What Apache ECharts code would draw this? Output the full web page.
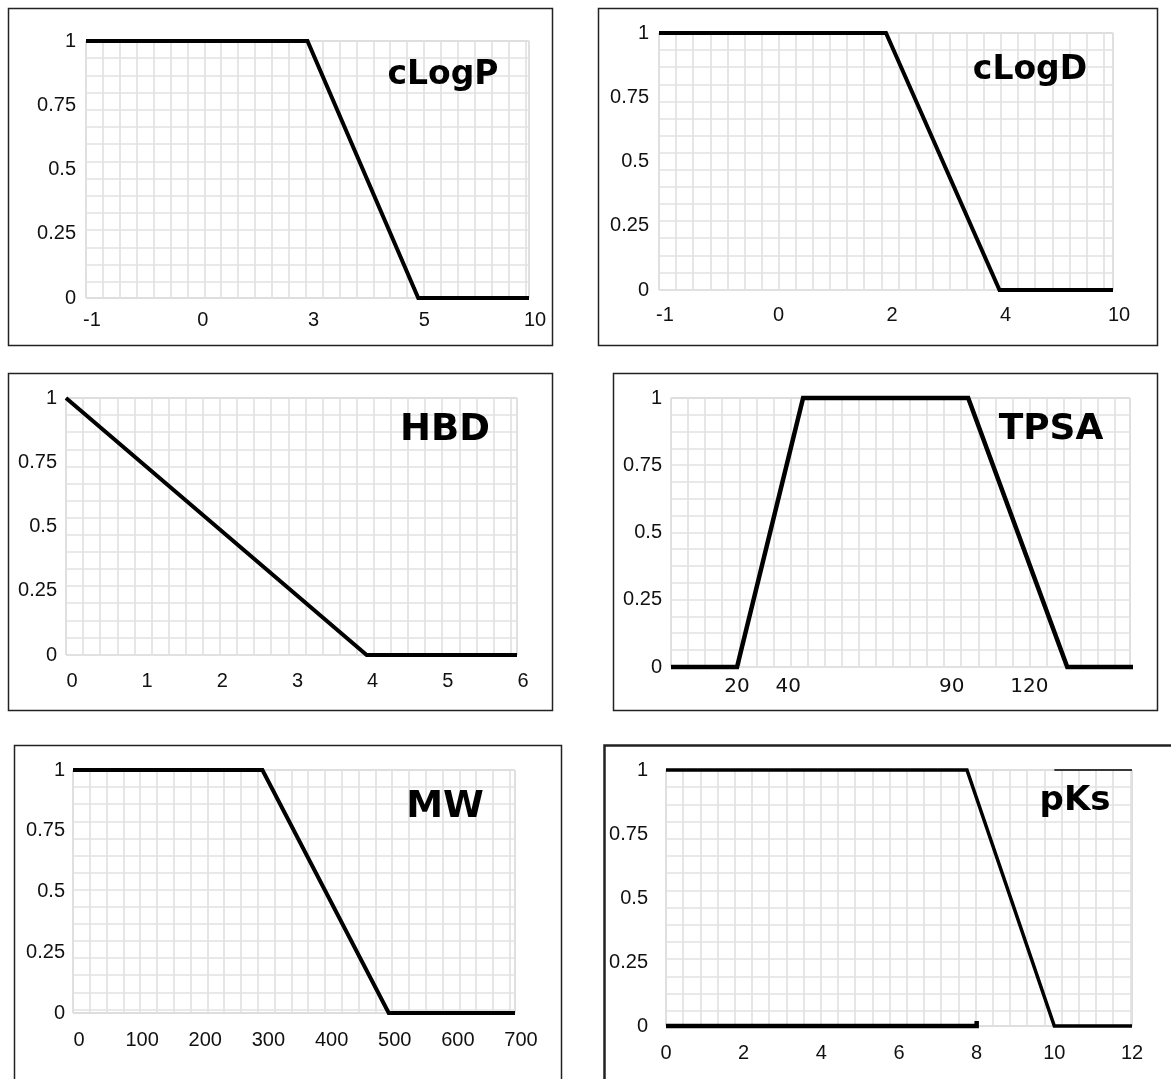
<!DOCTYPE html>
<html><head><meta charset="utf-8">
<script src="https://cdn.jsdelivr.net/npm/echarts@6/dist/echarts.min.js"></script>
<style>html,body{margin:0;padding:0;background:#fff}#c{width:1171px;height:1079px}</style>
</head><body><div id="c"></div>
<script>
// ---------- data ----------
const titles = ['cLogP', 'cLogD', 'HBD', 'TPSA', 'MW', 'pKs'];
const yTickMin = 0, yTickMax = 1, yTickStep = 0.25;

const clogpCats = ['-1', '0', '3', '5', '10'];
const clogpVals = [1, 1, 1, 0, 0];

const clogdCats = ['-1', '0', '2', '4', '10'];
const clogdVals = [1, 1, 1, 0, 0];

const hbdX = [0, 4, 6];
const hbdY = [1, 0, 0];

const tpsaX = [0, 20, 40, 90, 120, 148];
const tpsaY = [0, 0, 1, 1, 0, 0];
const tpsaTickPos = [20, 35.5, 85, 108.5];
const tpsaTickText = ['20', '40', '90', '120'];

const mwX = [0, 300, 500, 700];
const mwY = [1, 1, 0, 0];

const pksX = [0, 7.75, 10, 12];
const pksY = [1, 1, 0, 0];
const pksLowX = [0, 8, 8];
const pksLowY = [0, 0, 0.02];
const pksCapX = [10, 12];
const pksCapY = [1, 1];

// ---------- layout ----------
const panels = [
  {grid: {left: 86, top: 41, width: 443, height: 257}, box: [8.5, 8.5, 544, 337], cell: [16.9, 17.2],
   title: {x: 443, y: 75, size: 33}, yMargin: 10, xMargin: 12, xFont: 20, xPad: 12},
  {grid: {left: 659, top: 33, width: 454, height: 257}, box: [598.5, 8.5, 559, 337], cell: [17.1, 17.1],
   title: {x: 1030, y: 70, size: 33}, yMargin: 10, xMargin: 15, xFont: 20, xPad: 12},
  {grid: {left: 66, top: 398, width: 451, height: 257}, box: [8.5, 373.5, 544, 337], cell: [17.1, 17.1],
   title: {x: 445, y: 430, size: 37}, yMargin: 9, xMargin: 16, xFont: 20, xPad: 12},
  {grid: {left: 671, top: 398, width: 459, height: 269}, box: [613.5, 373.5, 544, 337], cell: [17.07, 16.8],
   title: {x: 1051, y: 430, size: 36}, yMargin: 9, xMargin: 10, xFont: 20, xPad: 0},
  {grid: {left: 73, top: 770, width: 442, height: 243}, box: [14.5, 745.5, 547, 400], cell: [16.8, 17.1],
   title: {x: 445, y: 807, size: 37}, yMargin: 8, xMargin: 17, xFont: 20, xPad: 12},
  {grid: {left: 666, top: 770, width: 466, height: 256}, box: [604.5, 745.5, 620, 400], cell: [17.2, 17.2],
   title: {x: 1075, y: 801, size: 34}, yMargin: 18, xMargin: 17, xFont: 20, xPad: 0}
];

const labelFont = "'Liberation Sans', Arial, sans-serif";
const titleFont = "'DejaVu Sans', Verdana, sans-serif";

const grids = [], xAxes = [], yAxes = [], series = [], graphics = [];

function pairs(xs, ys) { return xs.map((x, i) => [x, ys[i]]); }

const mainX = [
  {type: 'category', data: clogpCats, boundaryGap: false},
  {type: 'category', data: clogdCats, boundaryGap: false},
  {type: 'value', min: 0, max: 6, interval: 1},
  {type: 'value', min: 0, max: 139},
  {type: 'value', min: 0, max: 700, interval: 100},
  {type: 'value', min: 0, max: 12, interval: 2}
];

const lineData = [
  [{d: clogpVals, w: 4}],
  [{d: clogdVals, w: 4}],
  [{d: pairs(hbdX, hbdY), w: 4}],
  [{d: pairs(tpsaX, tpsaY), w: 4.5}],
  [{d: pairs(mwX, mwY), w: 4}],
  [{d: pairs(pksX, pksY), w: 3.5}, {d: pairs(pksLowX, pksLowY), w: 4.5}, {d: pairs(pksCapX, pksCapY), w: 1.5}]
];

panels.forEach((p, i) => {
  grids.push(Object.assign({show: true, borderColor: '#a6a6a6', borderWidth: 1, backgroundColor: '#fff'}, p.grid));
  const mx = Object.assign({
    gridIndex: i, position: 'bottom',
    axisLine: {show: false}, axisTick: {show: false}, splitLine: {show: false},
    axisLabel: {
      show: true, interval: 0, margin: p.xMargin, color: '#111',
      fontFamily: i === 3 ? titleFont : labelFont, fontSize: p.xFont,
      padding: [0, 0, 0, p.xPad]
    }
  }, mainX[i]);
  if (i === 3) {
    mx.axisLabel.customValues = tpsaTickPos;
    mx.axisLabel.formatter = v => tpsaTickText[tpsaTickPos.indexOf(v)];
  }
  xAxes.push(mx);
  // hidden grid-pattern axis (x)
  xAxes.push({
    gridIndex: i, type: 'value', min: 0, max: p.grid.width / p.cell[0], interval: 1, position: 'top',
    axisLine: {show: false}, axisTick: {show: false}, axisLabel: {show: false},
    splitLine: {show: true, lineStyle: {color: '#e2e2e2', width: 1.7}}
  });
  yAxes.push({
    gridIndex: i, type: 'value', min: yTickMin, max: yTickMax, interval: yTickStep,
    axisLine: {show: false}, axisTick: {show: false}, splitLine: {show: false},
    axisLabel: {show: true, margin: p.yMargin, color: '#111', fontFamily: labelFont, fontSize: 20}
  });
  yAxes.push({
    gridIndex: i, type: 'value', min: 0, max: p.grid.height / p.cell[1], interval: 1, inverse: true, position: 'right',
    axisLine: {show: false}, axisTick: {show: false}, axisLabel: {show: false},
    splitLine: {show: true, lineStyle: {color: '#e2e2e2', width: 1.7}}
  });
  lineData[i].forEach(ld => {
    series.push({
      type: 'line', xAxisIndex: 2 * i, yAxisIndex: 2 * i, data: ld.d,
      symbol: 'none', showSymbol: false, clip: false, z: 5,
      lineStyle: {color: '#000', width: ld.w, join: 'miter', cap: 'butt'}
    });
  });
  graphics.push({
    type: 'rect', silent: true, z: 0,
    shape: {x: p.box[0], y: p.box[1], width: p.box[2], height: p.box[3]},
    style: {fill: 'none', stroke: '#222', lineWidth: i === 5 ? 2.5 : 1.5}
  });
  graphics.push({
    type: 'text', silent: true, z: 100, x: p.title.x, y: p.title.y,
    style: {text: titles[i], fill: '#000', font: 'bold ' + p.title.size + 'px ' + titleFont,
            textAlign: 'center', textVerticalAlign: 'middle'}
  });
});

const chart = echarts.init(document.getElementById('c'), null, {renderer: 'canvas'});
chart.setOption({
  animation: false,
  backgroundColor: '#fff',
  grid: grids, xAxis: xAxes, yAxis: yAxes, series: series,
  graphic: {elements: graphics}
});
</script></body></html>
